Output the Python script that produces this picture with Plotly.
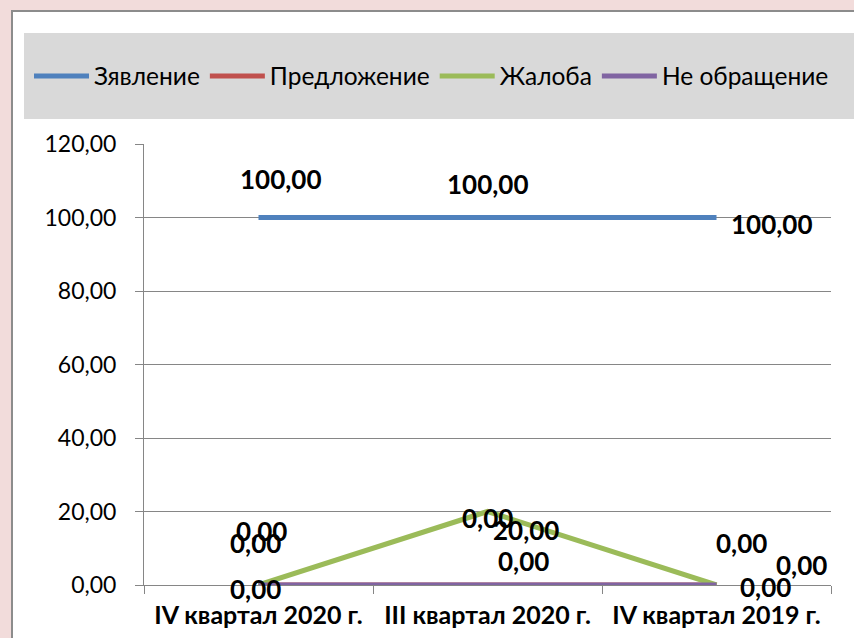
import plotly.graph_objects as go

categories = ["IV квартал 2020 г.", "III квартал 2020 г.", "IV квартал 2019 г."]
series_names = ["Зявление", "Предложение", "Жалоба", "Не обращение"]
zayavlenie = [100.0, 100.0, 100.0]
predlozhenie = [0.0, 0.0, 0.0]
zhaloba = [0.0, 20.0, 0.0]
ne_obrashchenie = [0.0, 0.0, 0.0]
y_ticks = [0, 20, 40, 60, 80, 100, 120]

series_values = [zayavlenie, predlozhenie, zhaloba, ne_obrashchenie]
colors = ["#4F81BD", "#C0504D", "#9BBB59", "#8064A2"]

# pixel offsets of each data label from its point (Excel-style scattered labels)
label_offsets = [
    [(22, 39), (0, 34), (55, -6)],
    [(3, 54), (0, 67), (25, 42)],
    [(-3, 42), (38, -18), (85, 20)],
    [(-3, -4), (36, 24), (49, -2)],
]

FONT = "Lato"
fig = go.Figure()
for name, vals, col in zip(series_names, series_values, colors):
    fig.add_trace(go.Scatter(
        x=categories, y=vals, name=name, mode="lines",
        line=dict(color=col, width=5),
    ))

annotations = []
for vals, offs in zip(series_values, label_offsets):
    for c, v, (dx, dy) in zip(categories, vals, offs):
        annotations.append(dict(
            x=c, y=v, xref="x", yref="y", showarrow=False,
            text=f"{v:.2f}".replace(".", ","),
            xshift=dx, yshift=dy,
            font=dict(family=FONT, size=26, color="black", weight="bold"),
        ))

# plot area: x 144..831, y 144..585
W, H = 854, 638
L, R, T, B = 144, 23, 144, 53
pw, ph = W - L - R, H - T - B
def px(x):
    return (x - L) / pw
def py(y):
    return (H - B - y) / ph

shapes = [
    dict(type="rect", xref="paper", yref="paper", x0=px(12), x1=px(870), y0=py(11), y1=py(660),
         fillcolor="white", line=dict(color="#8C8C8C", width=2), layer="below"),
    dict(type="rect", xref="paper", yref="paper", x0=px(24), x1=px(870), y0=py(33), y1=py(119),
         fillcolor="#D9D9D9", line=dict(width=0), layer="below"),
]

fig.update_layout(
    width=W, height=H,
    margin=dict(l=L, r=R, t=T, b=B, autoexpand=False),
    paper_bgcolor="#F2DCDB",
    plot_bgcolor="rgba(0,0,0,0)",
    separators=", ",
    font=dict(family=FONT, color="black"),
    shapes=shapes,
    annotations=annotations,
    showlegend=True,
    legend=dict(
        orientation="h", x=px(29), xanchor="left", y=py(76), yanchor="middle",
        bgcolor="rgba(0,0,0,0)", font=dict(family=FONT, size=24.5, color="black"),
        itemwidth=55, traceorder="normal", borderwidth=0,
    ),
    xaxis=dict(
        type="category", tickson="boundaries", ticks="outside", ticklen=8,
        tickcolor="#868686", showline=True, linecolor="#868686", linewidth=1,
        showgrid=False, automargin=False, ticklabelstandoff=8,
        tickfont=dict(family=FONT, size=25, weight="bold", color="black"),
        range=[-0.5, 2.5],
    ),
    yaxis=dict(
        range=[0, 120], tickvals=y_ticks, tickformat=".2f", ticks="outside", ticklen=8,
        tickcolor="#868686", showline=True, linecolor="#868686", linewidth=1,
        showgrid=True, gridcolor="#868686", gridwidth=1, zeroline=False,
        automargin=False, ticklabelstandoff=14,
        tickfont=dict(family=FONT, size=23, color="black"),
    ),
)

fig.write_html(
    "out.html",
    config={"displayModeBar": False},
    post_script="document.body.style.margin='0px';document.body.style.background='#F2DCDB';",
)
